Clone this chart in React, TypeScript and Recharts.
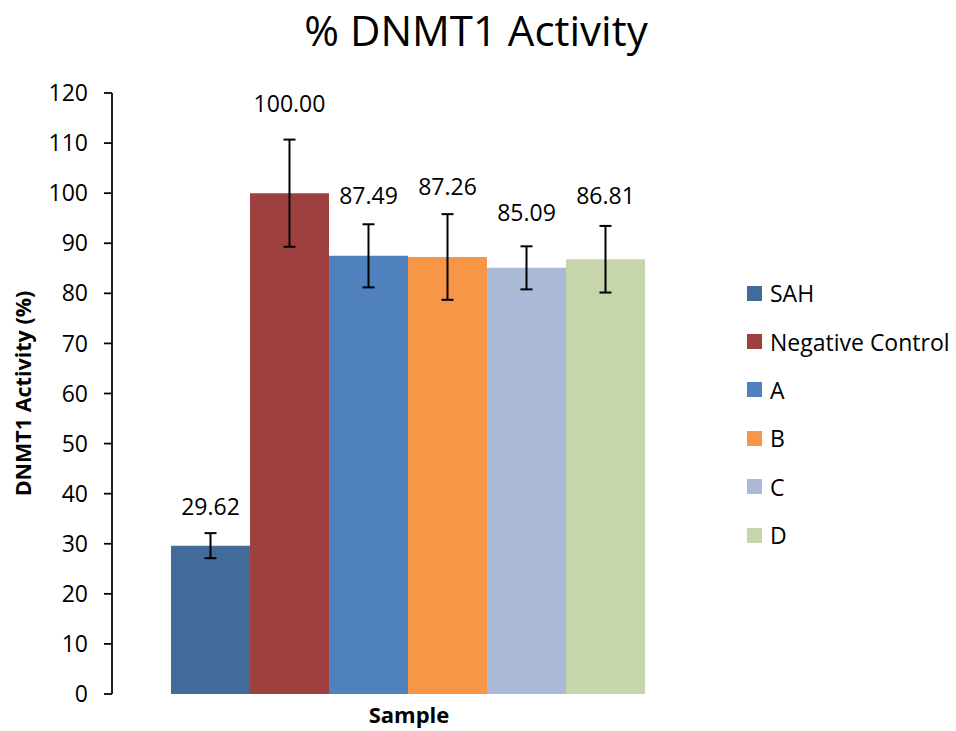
import React from 'react';
import { BarChart, Bar, XAxis, YAxis, ErrorBar, LabelList, Legend } from 'recharts';

const categories = ['Sample'];
const seriesNames = ['SAH', 'Negative Control', 'A', 'B', 'C', 'D'];
const seriesValues = [29.62, 100.0, 87.49, 87.26, 85.09, 86.81];
const seriesErrors = [2.5, 10.7, 6.3, 8.55, 4.3, 6.65];
const seriesColors = ['#426b9c', '#9e403e', '#4f81bd', '#f79646', '#aabad7', '#c6d6aa'];
const labelLift = [27, 37, 29, 28, 34, 31];
const yTicks = [0, 10, 20, 30, 40, 50, 60, 70, 80, 90, 100, 110, 120];

const FONT = '"Open Sans", "Noto Sans", sans-serif';

const data = categories.map((c) => {
  const row: Record<string, any> = { category: c };
  seriesNames.forEach((n, i) => {
    row[`v${i}`] = seriesValues[i];
    row[`e${i}`] = seriesErrors[i];
  });
  return row;
});

const makeLabel = (err: number, lift: number) => (props: any) => {
  const { x, y, width, height, value } = props;
  if (value == null || !height) return null;
  const pxPerUnit = height / value;
  const top = y - err * pxPerUnit;
  return (
    <text
      x={x + width / 2}
      y={top - lift}
      textAnchor="middle"
      dominantBaseline="central"
      fontFamily={FONT}
      fontSize={23}
      fill="#000"
    >
      {Number(value).toFixed(2)}
    </text>
  );
};

const LegendContent = () => (
  <div style={{ fontFamily: FONT, fontSize: 23, color: '#000' }}>
    {seriesNames.map((n, i) => (
      <div key={n} style={{ height: 48.4, display: 'flex', alignItems: 'center', whiteSpace: 'nowrap' }}>
        <span style={{ display: 'inline-block', width: 15, height: 15, background: seriesColors[i], marginRight: 8 }} />
        <span>{n}</span>
      </div>
    ))}
  </div>
);

export default function App() {
  return (
    <div style={{ position: 'absolute', left: 0, top: 0, width: 956, height: 731, background: '#fff' }}>
      <div
        style={{
          position: 'absolute',
          left: 0,
          top: 5,
          width: 952,
          textAlign: 'center',
          fontFamily: FONT,
          fontSize: 42,
          color: '#000',
          lineHeight: '50px',
          whiteSpace: 'nowrap',
        }}
      >
        % DNMT1 Activity
      </div>
      <BarChart
        width={956}
        height={731}
        data={data}
        margin={{ top: 93, right: 250, bottom: 0, left: 0 }}
        barCategoryGap={59}
        barGap={0}
      >
        <XAxis
          dataKey="category"
          height={37}
          tick={false}
          tickLine={false}
          axisLine={false}
          label={(p: any) => {
            const vb = p.viewBox;
            return (
              <text
                x={vb.x + vb.width / 2}
                y={vb.y + 20}
                textAnchor="middle"
                dominantBaseline="central"
                fontFamily={FONT}
                fontWeight="bold"
                fontSize={22}
                fill="#000"
              >
                Sample
              </text>
            );
          }}
        />
        <YAxis
          width={112}
          domain={[0, 120]}
          ticks={yTicks}
          interval={0}
          tickSize={8}
          tickMargin={16}
          axisLine={{ stroke: '#000', strokeWidth: 1.75 }}
          tickLine={{ stroke: '#000', strokeWidth: 1.75 }}
          tick={{ fill: '#000', fontSize: 23, fontFamily: FONT }}
          label={(p: any) => {
            const vb = p.viewBox;
            const cx = vb.x + 22;
            const cy = vb.y + vb.height / 2;
            return (
              <text
                x={cx}
                y={cy}
                transform={`rotate(-90 ${cx} ${cy})`}
                textAnchor="middle"
                dominantBaseline="central"
                fontFamily={FONT}
                fontWeight="bold"
                fontSize={21.5}
                fill="#000"
              >
                DNMT1 Activity (%)
              </text>
            );
          }}
        />
        <Legend
          layout="vertical"
          align="center"
          verticalAlign="middle"
          content={<LegendContent />}
          wrapperStyle={{ position: 'absolute', left: 747, top: 269, width: 209 }}
        />
        {seriesNames.map((n, i) => (
          <Bar key={n} dataKey={`v${i}`} name={n} fill={seriesColors[i]} isAnimationActive={false}>
            <ErrorBar dataKey={`e${i}`} width={6} strokeWidth={2} stroke="#000" direction="y" />
            <LabelList dataKey={`v${i}`} content={makeLabel(seriesErrors[i], labelLift[i])} />
          </Bar>
        ))}
      </BarChart>
    </div>
  );
}
